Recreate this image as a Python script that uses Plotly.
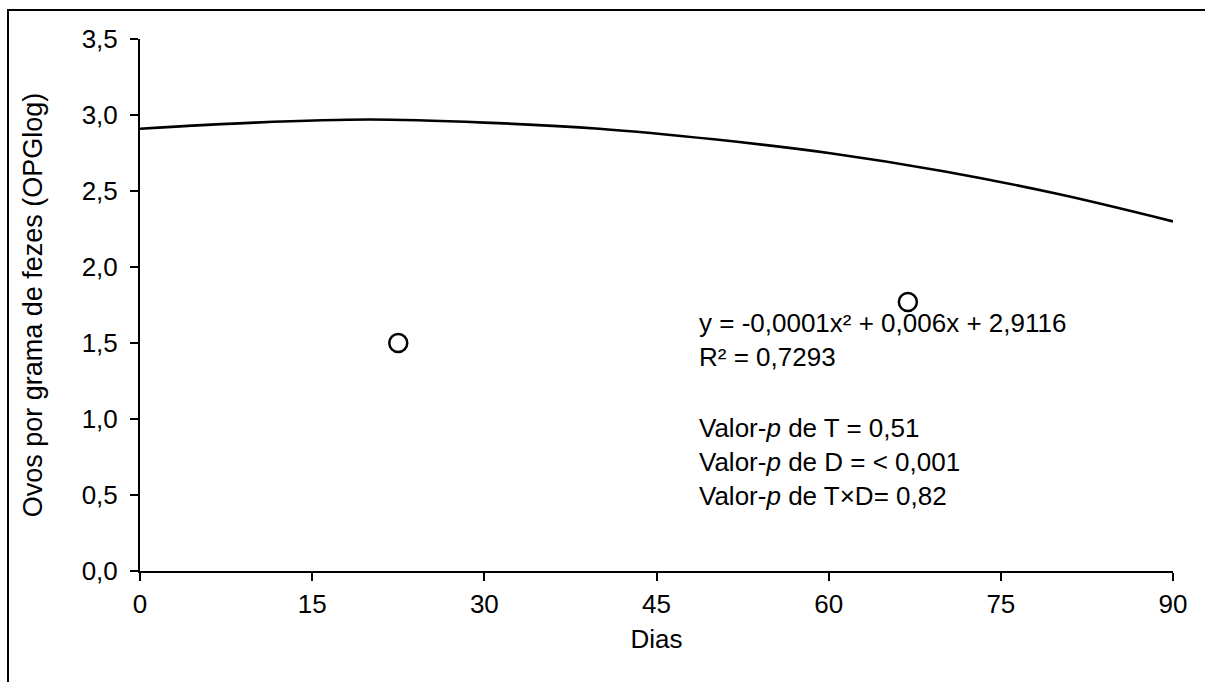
import plotly.graph_objects as go

# Observed means (open circles)
obs_days = [22.5, 66.9]
obs_opg = [1.50, 1.77]

# Fitted trend curve
fit_days = [0, 10, 20, 30, 40, 50, 60, 70, 80, 90]
fit_opg = [2.91, 2.95, 2.97, 2.95, 2.91, 2.84, 2.75, 2.63, 2.48, 2.30]

x_ticks = [0, 15, 30, 45, 60, 75, 90]
x_tick_text = ["0", "15", "30", "45", "60", "75", "90"]
y_ticks = [0, 0.5, 1.0, 1.5, 2.0, 2.5, 3.0, 3.5]
y_tick_text = ["0,0", "0,5", "1,0", "1,5", "2,0", "2,5", "3,0", "3,5"]

eq_text = "y = -0,0001x² + 0,006x + 2,9116<br>R² = 0,7293"
p_text = ("Valor-<i>p</i> de T = 0,51<br>"
          "Valor-<i>p</i> de D = < 0,001<br>"
          "Valor-<i>p</i> de T×D= 0,82")

FONT = "Liberation Sans, Arial, sans-serif"

fig = go.Figure()
fig.add_trace(go.Scatter(
    x=fit_days, y=fit_opg, mode="lines",
    line=dict(color="black", width=2.6, shape="spline"),
    showlegend=False, hoverinfo="skip"))
fig.add_trace(go.Scatter(
    x=obs_days, y=obs_opg, mode="markers",
    marker=dict(symbol="circle-open", size=18, color="black",
                line=dict(width=2.5, color="black")),
    showlegend=False))

W, H = 1205, 682
L, R, T, B = 140, 32, 39, 111

fig.update_layout(
    width=W, height=H, autosize=False,
    margin=dict(l=L, r=R, t=T, b=B, pad=0),
    paper_bgcolor="white", plot_bgcolor="white",
    font=dict(family=FONT, size=26, color="black"),
    xaxis=dict(range=[0, 90], tickvals=x_ticks, ticktext=x_tick_text,
               showgrid=False, zeroline=False, showline=True,
               linecolor="black", linewidth=2, ticks="outside",
               ticklen=8, tickwidth=2, tickcolor="black",
               tickfont=dict(size=26, family=FONT), ticklabelstandoff=1,
               title=dict(text="Dias", font=dict(size=26, family=FONT), standoff=12)),
    yaxis=dict(range=[0, 3.5], tickvals=y_ticks, ticktext=y_tick_text,
               showgrid=False, zeroline=False, showline=True,
               linecolor="black", linewidth=2, ticks="outside",
               ticklen=8, tickwidth=2, tickcolor="black",
               tickfont=dict(size=26, family=FONT), ticklabelstandoff=7,
               title=dict(text="Ovos por grama de fezes (OPGlog)",
                          font=dict(size=27, family=FONT), standoff=31)),
)

pw = W - L - R
ph = H - T - B

def px_x(p):
    return (p - L) / pw

def px_y(p):
    return (H - B - p) / ph

fig.add_annotation(x=px_x(697), y=px_y(306), xref="paper", yref="paper",
                   text=eq_text, showarrow=False, xanchor="left", yanchor="top",
                   align="left", font=dict(size=26, family=FONT, color="black"))
fig.add_annotation(x=px_x(697), y=px_y(411), xref="paper", yref="paper",
                   text=p_text, showarrow=False, xanchor="left", yanchor="top",
                   align="left", font=dict(size=26, family=FONT, color="black"))

# outer frame of the original figure
fig.add_shape(type="rect", xref="paper", yref="paper",
              x0=px_x(8), x1=px_x(1230), y0=px_y(720), y1=px_y(10),
              line=dict(color="black", width=2), fillcolor="rgba(0,0,0,0)",
              layer="above")

fig.write_html("out.html", config={"displayModeBar": False},
               post_script="document.body.style.margin='0';document.body.style.overflow='hidden';")
